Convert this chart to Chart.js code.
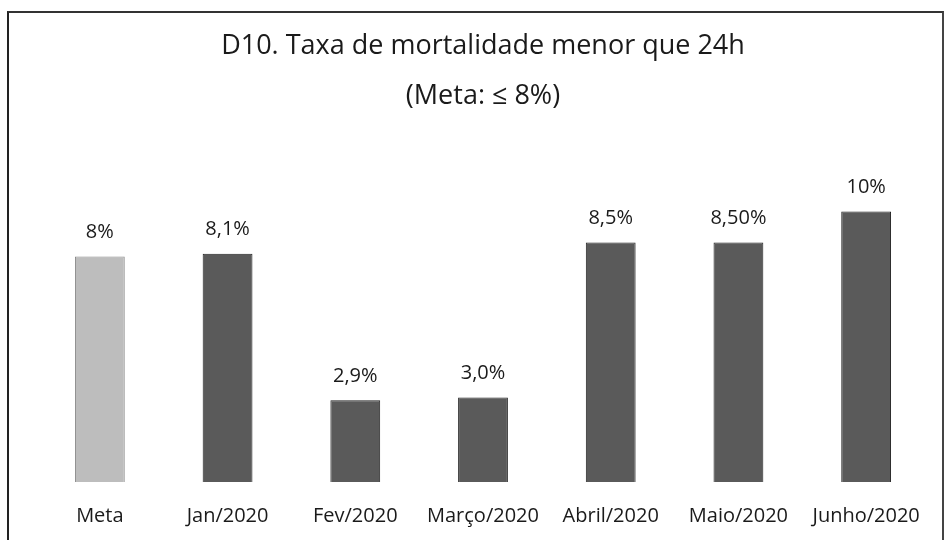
<!DOCTYPE html>
<html>
<head>
<meta charset="utf-8">
<script src="https://cdn.jsdelivr.net/npm/chart.js@4.4.1/dist/chart.umd.min.js"></script>
<style>
  html, body { margin: 0; padding: 0; background: #fff; }
  #wrap { position: relative; width: 946px; height: 540px; overflow: hidden; }
  #frame {
    position: absolute; left: 7px; top: 11px; width: 937px; height: 540px;
    border-left: 2px solid #222; border-top: 2px solid #333; border-right: 2px solid #444;
    box-sizing: border-box;
  }
  canvas { position: absolute; left: 0; top: 0; }
</style>
</head>
<body>
<div id="wrap">
  <div id="frame"></div>
  <canvas id="chart" width="946" height="540"></canvas>
</div>
<script>
const categories = ["Meta", "Jan/2020", "Fev/2020", "Março/2020", "Abril/2020", "Maio/2020", "Junho/2020"];
const values = [8, 8.1, 2.9, 3.0, 8.5, 8.5, 9.6];
const valueLabels = ["8%", "8,1%", "2,9%", "3,0%", "8,5%", "8,50%", "10%"];
const barColors = ["#bdbdbd", "#5a5a5a", "#5a5a5a", "#5a5a5a", "#5a5a5a", "#5a5a5a", "#5a5a5a"];
const edgeColors = ["#8a8a8a", "#222", "#222", "#222", "#222", "#222", "#222"];

const FONT = "'Open Sans', sans-serif";

// draws the value text above each bar
const barLabels = {
  id: "barLabels",
  afterDatasetsDraw(chart) {
    const ctx = chart.ctx;
    const meta = chart.getDatasetMeta(0);
    ctx.save();
    ctx.font = "20px " + FONT;
    ctx.fillStyle = "#1a1a1a";
    ctx.textAlign = "center";
    ctx.textBaseline = "middle";
    meta.data.forEach((bar, i) => {
      ctx.fillText(valueLabels[i], bar.x, bar.y - 24);
    });
    ctx.restore();
  }
};

new Chart(document.getElementById("chart").getContext("2d"), {
  type: "bar",
  data: {
    labels: categories,
    datasets: [{
      data: values,
      backgroundColor: barColors,
      borderColor: edgeColors,
      borderWidth: 1,
      barPercentage: 0.39,
      categoryPercentage: 1
    }]
  },
  options: {
    responsive: false,
    animation: false,
    layout: { padding: { left: 36, right: 16, bottom: 12 } },
    plugins: {
      legend: { display: false },
      tooltip: { enabled: false },
      title: {
        display: true,
        text: ["D10. Taxa de mortalidade menor que 24h", "(Meta: ≤ 8%)"],
        color: "#1a1a1a",
        font: { family: FONT, size: 27, weight: "normal", lineHeight: 1.85 },
        padding: { top: 21, bottom: 23 }
      }
    },
    scales: {
      x: {
        grid: { display: false },
        border: { display: false },
        ticks: { color: "#1a1a1a", font: { family: FONT, size: 20 }, padding: 14, maxRotation: 0 },
        afterFit(scale) { scale.height = 46; }
      },
      y: {
        display: false,
        min: 0,
        max: 12
      }
    }
  },
  plugins: [barLabels]
});
</script>
</body>
</html>
